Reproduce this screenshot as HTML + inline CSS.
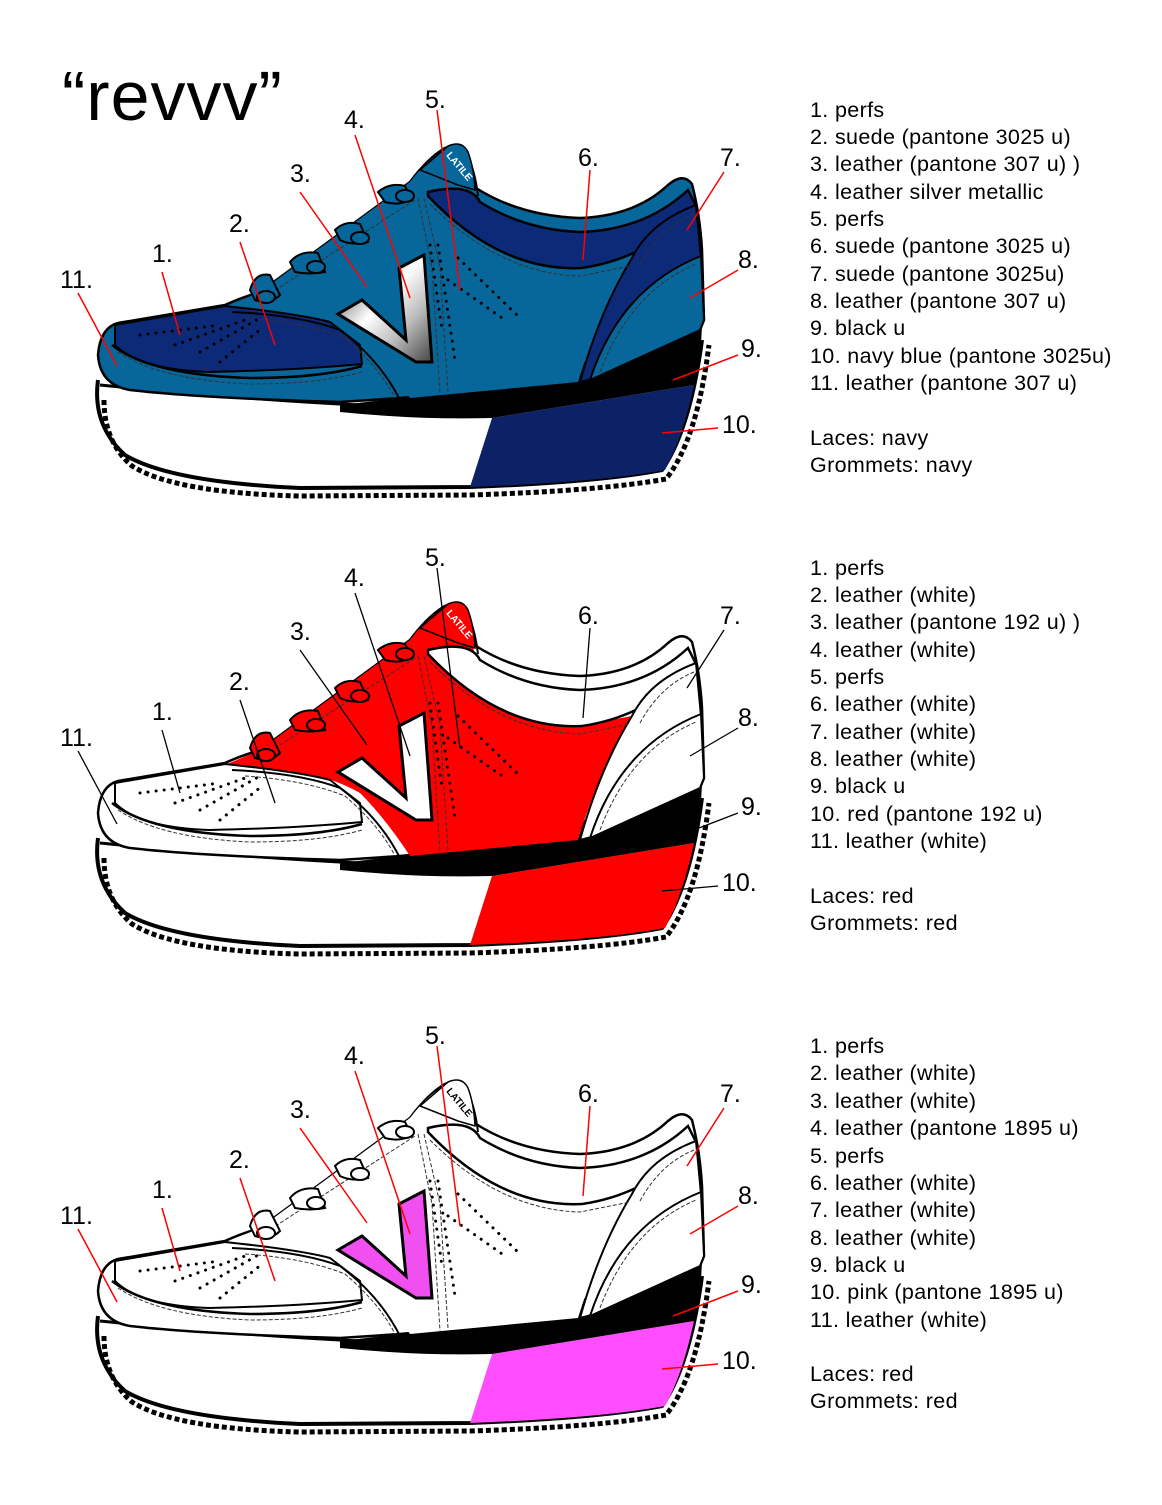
<!DOCTYPE html>
<html><head><meta charset="utf-8"><style>
html,body{margin:0;padding:0;background:#fff}
svg{display:block}
text{font-family:"Liberation Sans",Arial,sans-serif}
.n{font-size:25px}
.l{font-size:21.5px;letter-spacing:0.35px}
</style></head><body>
<svg width="1162" height="1505" viewBox="0 0 1162 1505" xmlns="http://www.w3.org/2000/svg">
<defs>
<linearGradient id="silver" x1="0" y1="0" x2="1" y2="1">
<stop offset="0" stop-color="#222"/><stop offset="0.45" stop-color="#fff"/><stop offset="0.7" stop-color="#bbb"/><stop offset="1" stop-color="#444"/>
</linearGradient>
<g id="shoe">
<!-- sole -->
<path d="M98,380 Q92,425 125,455 Q170,482 300,488 L470,487 Q600,482 662,470 Q690,430 702,340 L700,330 L400,395 L100,390 Z" fill="#fff"/>
<path d="M98,380 Q92,425 125,455 Q170,482 300,488 L470,487 Q600,482 662,470 Q690,430 702,340" fill="none" stroke="#000" stroke-width="4"/>
<path d="M104,400 Q104,442 132,466 Q175,493 300,496 L470,495 Q600,491 666,479 Q697,440 709,345" fill="none" stroke="#000" stroke-width="5" stroke-dasharray="5 3"/>
<!-- 10 -->
<path d="M492,418 L694,385 Q682,440 665,470 Q600,482 470,487 Z" style="fill:var(--b10)"/>
<!-- 9 band -->
<path d="M340,405 Q420,396 520,382 L702,326 L700,362 L694,385 L492,418 Q420,420 340,412 Z" fill="#000"/>
<path d="M100,385 Q250,400 360,405 L400,400" fill="none" stroke="#000" stroke-width="3"/>
<!-- upper -->
<path d="M98,355 Q100,328 118,323 L225,305 Q240,298 260,292 L410,182 Q428,158 445,148 Q460,142 465,152 Q472,168 476,188 Q520,216 580,218 Q635,216 668,185 Q683,172 692,184 Q700,215 702,250 L704,320 L700,330 L520,382 Q430,396 400,398 L340,402 Q200,398 130,390 Q100,385 98,355 Z" style="fill:var(--up)" stroke="#000" stroke-width="2.5"/>
<!-- mid panel (3) -->
<path d="M225,307 L260,292 L410,182 Q430,156 448,148 Q462,145 465,155 Q472,172 474,194 L428,196 Q500,268 580,268 L632,258 Q600,310 578,382 L410,398 Q385,360 360,335 Q330,318 300,316 Z" style="fill:var(--mid)"/>
<!-- toe cap 1/2 -->
<path d="M115,325 L225,306 Q300,314 330,322 L360,345 L362,364 Q300,370 210,372 Q140,370 115,345 Z" style="fill:var(--toe)" stroke="#000" stroke-width="2"/>
<path d="M112,345 Q150,375 250,378 Q320,378 362,366" fill="none" stroke="#000" stroke-width="2.5"/>
<path d="M118,352 Q160,380 250,384 Q320,384 362,372" fill="none" stroke="#333" stroke-width="1" stroke-dasharray="4 2"/>
<!-- collar 6 -->
<path d="M428,192 Q470,182 480,202 Q525,230 580,232 Q645,230 688,190 L696,206 Q650,258 582,268 Q500,272 428,196 Z" style="fill:var(--col)" stroke="#000" stroke-width="2.5"/>
<path d="M466,152 Q475,170 478,196" fill="none" stroke="#000" stroke-width="2"/>
<!-- heel 7 -->
<path d="M632,258 Q650,222 696,205 L701,258 Q640,280 603,376 L580,382 Q600,310 632,258 Z" style="fill:var(--h7)" stroke="#000" stroke-width="2"/>
<!-- heel 8 -->
<path d="M590,380 Q620,288 701,256 L704,320 L700,330 Z" style="fill:var(--h8)" stroke="#000" stroke-width="2"/>
<path d="M600,372 Q630,292 696,264" fill="none" stroke="#333" stroke-width="1" stroke-dasharray="4 2"/>
<path d="M640,265 Q660,228 694,214" fill="none" stroke="#333" stroke-width="1" stroke-dasharray="4 2"/>
<path d="M430,204 Q500,274 580,276 L630,266" fill="none" stroke="#333" stroke-width="1" stroke-dasharray="4 2"/>
<!-- stitch lines -->
<path d="M232,312 Q300,315 340,330 Q380,360 400,400" fill="none" stroke="#000" stroke-width="2"/>
<path d="M245,318 Q305,322 345,338 Q380,368 395,398" fill="none" stroke="#333" stroke-width="1" stroke-dasharray="4 2"/>
<path d="M418,198 L432,268 L440,395" fill="none" stroke="#333" stroke-width="1" stroke-dasharray="4 2"/>
<path d="M424,198 L440,268 L448,392" fill="none" stroke="#333" stroke-width="1" stroke-dasharray="4 2"/>
<path d="M260,300 L415,200" fill="none" stroke="#333" stroke-width="1" stroke-dasharray="4 2"/>
<!-- perfs -->
<g fill="none" stroke="#000" stroke-width="3" stroke-linecap="round" stroke-dasharray="0.1 8">
<path d="M140,335 L220,325"/><path d="M175,345 L245,320"/><path d="M200,352 L260,318"/><path d="M220,362 L262,328"/>
<path d="M438,245 L455,360"/><path d="M458,258 L520,318"/><path d="M448,280 L505,320"/><path d="M430,245 L442,330"/>
</g>
<!-- V -->
<path d="M338,314 L362,300 L406,340 L399,268 L424,255 L432,362 L416,362 Z" style="fill:var(--v)" stroke="#000" stroke-width="3"/>
<!-- laces -->
<g style="fill:var(--lace)" stroke="#000" stroke-width="2">
<path d="M250,290 Q255,272 270,275 L280,295 Q270,305 255,300 Z"/>
<path d="M290,262 Q300,250 318,253 L325,272 Q310,275 295,272 Z"/>
<path d="M335,230 Q345,220 360,224 L368,242 Q352,246 340,240 Z"/>
<path d="M378,192 Q390,182 405,186 L412,200 Q398,206 385,202 Z"/>
<ellipse cx="266" cy="297" rx="9" ry="6"/><ellipse cx="316" cy="267" rx="9" ry="6"/><ellipse cx="360" cy="238" rx="9" ry="6"/><ellipse cx="405" cy="196" rx="9" ry="6"/>
</g>
<!-- tongue label -->
<path d="M420,170 L448,146 Q462,140 468,152 Q474,168 475,190 L458,185 Z" style="fill:var(--tg)" stroke="#000" stroke-width="1.5"/>
<text x="440" y="162" transform="rotate(50 450 165)" font-size="10" font-weight="bold" style="fill:var(--tt)">LATILE</text>
</g>
<g id="nums" class="n">
<text x="152" y="262">1.</text><text x="229" y="232">2.</text><text x="290" y="182">3.</text><text x="344" y="128">4.</text><text x="425" y="108">5.</text><text x="578" y="166">6.</text><text x="720" y="166">7.</text><text x="738" y="268">8.</text><text x="741" y="357">9.</text><text x="722" y="433">10.</text><text x="60" y="288">11.</text>
</g>
<g id="leads">
<line x1="162" y1="272" x2="180" y2="335"/><line x1="240" y1="242" x2="275" y2="345"/><line x1="300" y1="192" x2="367" y2="287"/><line x1="355" y1="135" x2="410" y2="298"/><line x1="437" y1="110" x2="460" y2="290"/><line x1="590" y1="170" x2="583" y2="260"/><line x1="724" y1="172" x2="687" y2="230"/><line x1="738" y1="270" x2="690" y2="298"/><line x1="738" y1="355" x2="673" y2="380"/><line x1="718" y1="428" x2="662" y2="433"/><line x1="78" y1="293" x2="117" y2="366"/>
</g>
</defs>

<text x="62" y="120" font-size="70" letter-spacing="1">“revvv”</text>

<use href="#shoe" style="--up:#07679b;--toe:#0d2a78;--mid:#07679b;--col:#0d2a78;--h7:#0d2a78;--h8:#07679b;--v:url(#silver);--b10:#0d2266;--lace:#07679b;--tg:#07679b;--tt:#fff"/>
<use href="#shoe" transform="translate(0,458)" style="--up:#fff;--toe:#fff;--mid:#ff0000;--col:#fff;--h7:#fff;--h8:#fff;--v:#fff;--b10:#ff0000;--lace:#ff0000;--tg:#ff0000;--tt:#fff"/>
<use href="#shoe" transform="translate(0,936)" style="--up:#fff;--toe:#fff;--mid:#fff;--col:#fff;--h7:#fff;--h8:#fff;--v:#f050f0;--b10:#ff4dff;--lace:#fff;--tg:#fff;--tt:#000"/>

<g stroke="#f00" stroke-width="1.5"><use href="#leads"/></g>
<use href="#nums"/>
<g transform="translate(0,458)"><g stroke="#000" stroke-width="1.3"><use href="#leads"/></g><use href="#nums"/></g>
<g transform="translate(0,936)"><g stroke="#f00" stroke-width="1.5"><use href="#leads"/></g><use href="#nums"/></g>

<g class="l">
<text x="810" y="117">1. perfs</text>
<text x="810" y="144">2. suede (pantone 3025 u)</text>
<text x="810" y="171">3. leather (pantone 307 u) )</text>
<text x="810" y="199">4. leather silver metallic</text>
<text x="810" y="226">5. perfs</text>
<text x="810" y="253">6. suede (pantone 3025 u)</text>
<text x="810" y="281">7. suede (pantone 3025u)</text>
<text x="810" y="308">8. leather (pantone 307 u)</text>
<text x="810" y="335">9. black u</text>
<text x="810" y="363">10. navy blue (pantone 3025u)</text>
<text x="810" y="390">11. leather (pantone 307 u)</text>
<text x="810" y="445">Laces: navy</text>
<text x="810" y="472">Grommets: navy</text>

<text x="810" y="575">1. perfs</text>
<text x="810" y="602">2. leather (white)</text>
<text x="810" y="629">3. leather (pantone 192 u) )</text>
<text x="810" y="657">4. leather (white)</text>
<text x="810" y="684">5. perfs</text>
<text x="810" y="711">6. leather (white)</text>
<text x="810" y="739">7. leather (white)</text>
<text x="810" y="766">8. leather (white)</text>
<text x="810" y="793">9. black u</text>
<text x="810" y="821">10. red (pantone 192 u)</text>
<text x="810" y="848">11. leather (white)</text>
<text x="810" y="903">Laces: red</text>
<text x="810" y="930">Grommets: red</text>

<text x="810" y="1053">1. perfs</text>
<text x="810" y="1080">2. leather (white)</text>
<text x="810" y="1108">3. leather (white)</text>
<text x="810" y="1135">4. leather (pantone 1895 u)</text>
<text x="810" y="1163">5. perfs</text>
<text x="810" y="1190">6. leather (white)</text>
<text x="810" y="1217">7. leather (white)</text>
<text x="810" y="1245">8. leather (white)</text>
<text x="810" y="1272">9. black u</text>
<text x="810" y="1299">10. pink (pantone 1895 u)</text>
<text x="810" y="1327">11. leather (white)</text>
<text x="810" y="1381">Laces: red</text>
<text x="810" y="1408">Grommets: red</text>
</g>
</svg>
</body></html>
